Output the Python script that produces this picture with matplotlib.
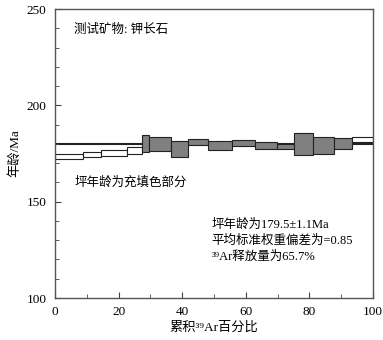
import numpy as np
import matplotlib
matplotlib.use("Agg")
import matplotlib.pyplot as plt
from matplotlib.ticker import MultipleLocator

plt.rcParams['font.family'] = ['Liberation Serif', 'Noto Sans CJK SC', 'DejaVu Serif']

# step boundaries (cumulative 39Ar %), apparent ages and 1-sigma half heights
step_left = [0.0, 8.9, 14.4, 22.7, 27.3, 29.7, 36.5, 41.9, 48.0, 55.7, 63.0, 69.9, 75.3, 81.2, 87.8, 93.5]
step_right = [8.9, 14.4, 22.7, 27.3, 29.7, 36.5, 41.9, 48.0, 55.7, 63.0, 69.9, 75.3, 81.2, 87.8, 93.5, 100.0]
step_age = [173.4, 174.5, 175.3, 176.5, 180.1, 179.9, 177.4, 180.9, 179.2, 180.6, 179.0, 178.7, 180.0, 179.3, 180.3, 182.2]
step_err = [1.2, 1.45, 1.55, 1.7, 4.5, 3.85, 4.05, 1.55, 2.45, 1.45, 1.8, 1.3, 5.55, 4.4, 2.9, 1.45]
in_plateau = [False, False, False, False, True, True, True, True, True, True, True, True, True, True, True, False]
plateau_age = 179.7

fig = plt.figure(figsize=(3.83, 3.4), dpi=100)
ax = fig.add_axes([0.1436, 0.1235, 0.8304, 0.85])

ax.plot([0, 100], [plateau_age, plateau_age], color='#222222', linewidth=1.5, zorder=1)

left = np.array(step_left)
width = np.array(step_right) - left
age = np.array(step_age)
err = np.array(step_err)
colors = ['#808080' if p else 'white' for p in in_plateau]
ax.bar(left, 2 * err, width=width, bottom=age - err, align='edge',
       color=colors, edgecolor='#222222', linewidth=0.8, zorder=2)

ax.set_xlim(0, 100)
ax.set_ylim(100, 250)
ax.xaxis.set_major_locator(MultipleLocator(20))
ax.xaxis.set_minor_locator(MultipleLocator(10))
ax.yaxis.set_major_locator(MultipleLocator(50))
ax.yaxis.set_minor_locator(MultipleLocator(10))
ax.tick_params(which='both', direction='in', labelsize=9.5, color='#444444')
ax.tick_params(which='major', length=4, pad=6)
ax.tick_params(which='minor', length=3)
for s in ax.spines.values():
    s.set_color('#555555')
    s.set_linewidth(1.0)

ax.set_xlabel('累积³⁹Ar百分比', fontsize=9.5, labelpad=2)
ax.set_ylabel('年龄/Ma', fontsize=9.5, labelpad=4)

ax.text(6, 239, '测试矿物: 钾长石', fontsize=9, va='center')
ax.text(6.3, 159.7, '坪年龄为充填色部分', fontsize=9, va='center')
ax.text(49.3, 138, '坪年龄为179.5±1.1Ma', fontsize=9, va='center')
ax.text(49.3, 129.7, '平均标准权重偏差为=0.85', fontsize=9, va='center')
ax.text(49.3, 121.6, '³⁹Ar释放量为65.7%', fontsize=9, va='center')

fig.savefig('out.png', dpi=100)
